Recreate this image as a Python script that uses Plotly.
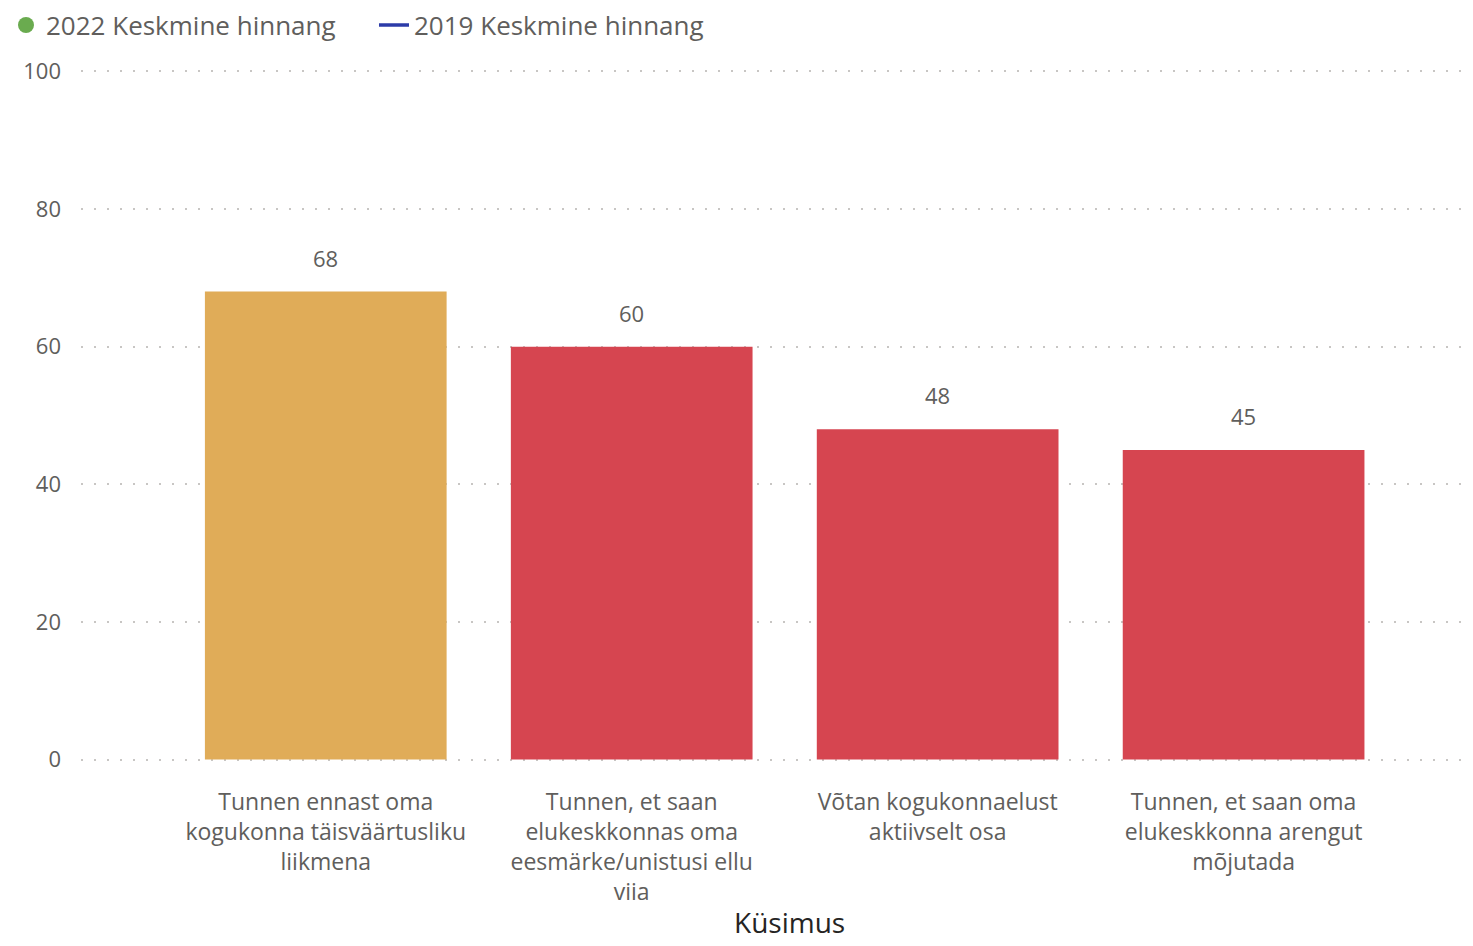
import plotly.graph_objects as go

categories = [
    "Tunnen ennast oma<br>kogukonna täisväärtusliku<br>liikmena",
    "Tunnen, et saan<br>elukeskkonnas oma<br>eesmärke/unistusi ellu<br>viia",
    "Võtan kogukonnaelust<br>aktiivselt osa",
    "Tunnen, et saan oma<br>elukeskkonna arengut<br>mõjutada",
]
values_2022 = [68, 60, 48, 45]
bar_colors = ["#E0AC58", "#D64550", "#D64550", "#D64550"]
y_ticks = [0, 20, 40, 60, 80, 100]
x_title = "Küsimus"

FONT = "Open Sans"
GRAY = "#605E5C"

fig = go.Figure()
fig.add_trace(go.Bar(
    x=categories, y=values_2022,
    marker=dict(color=bar_colors, line=dict(width=0)),
    showlegend=False, hoverinfo="x+y",
))
for c, v in zip(categories, values_2022):
    fig.add_annotation(
        x=c, y=v, text=str(v), showarrow=False, yanchor="bottom", yshift=17,
        font=dict(size=22, color=GRAY, family=FONT),
    )
fig.add_trace(go.Scatter(
    x=[None], y=[None], mode="markers", name="2022 Keskmine hinnang",
    marker=dict(color="#6AAB4F", size=18, symbol="circle"),
))
fig.add_trace(go.Scatter(
    x=[None], y=[None], mode="lines", name="2019 Keskmine hinnang",
    line=dict(color="#2C3BA8", width=3.5),
))
fig.add_annotation(
    xref="paper", yref="paper", x=0.5102, y=-0.2333, text=x_title,
    showarrow=False, xanchor="center", yanchor="middle",
    font=dict(size=28, color="#252423", family=FONT),
)

fig.update_layout(
    width=1473, height=946,
    margin=dict(l=73, r=11, t=61.6, b=192.6, autoexpand=False),
    plot_bgcolor="white", paper_bgcolor="white",
    bargap=0.21,
    font=dict(family=FONT, color=GRAY, size=22),
    legend=dict(
        orientation="h", xref="paper", yref="paper",
        x=-0.054, y=1.099, xanchor="left", yanchor="top",
        font=dict(size=26, color=GRAY, family=FONT),
        itemwidth=30, entrywidth=323, entrywidthmode="pixels",
        tracegroupgap=0, bgcolor="rgba(0,0,0,0)",
    ),
    xaxis=dict(
        range=[-0.80, 3.74], showgrid=False, zeroline=False, showline=False,
        ticks="", automargin=False, ticklabelstandoff=25,
        tickfont=dict(size=23, color=GRAY, family=FONT),
    ),
    yaxis=dict(
        range=[-0.2, 100.2], tickvals=y_ticks, showgrid=True,
        gridcolor="#C8C6C4", griddash="2px,11px", gridwidth=2,
        zeroline=False, showline=False, ticks="", automargin=False,
        tickfont=dict(size=22, color=GRAY, family=FONT), ticklabelstandoff=19,
    ),
)

fig.write_html("out.html")
